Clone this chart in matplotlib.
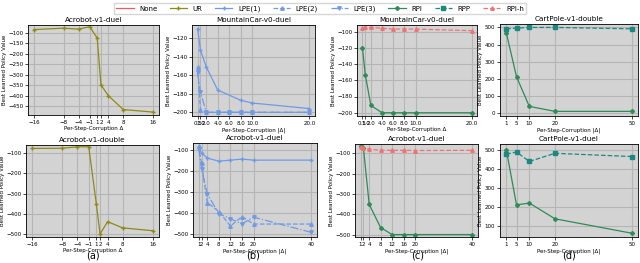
import matplotlib
matplotlib.use("Agg")
import matplotlib.pyplot as plt
from matplotlib.lines import Line2D

# ---- data ----
acro_x = [-16, -8, -4, -1, 1, 2, 4, 8, 16]
acro_duel_ur = [-84, -77, -82, -70, -125, -348, -400, -466, -478]
acro_double_ur = [-77, -76, -69, -69, -350, -500, -439, -470, -484]

mc_x = [0.5, 1.0, 2.0, 4.0, 6.0, 8.0, 10.0, 20.0]
mc_ticks = [0.5, 1.0, 2.0, 4.0, 6.0, 8.0, 10.0, 20.0]
mc_ticklabels = ["0.5", "1.0", "2.0", "4.0", "6.0", "8.0", "10.0", "20.0"]
mc_lpe1_x = [0.5, 1.0, 2.0, 4.0, 8.0, 10.0, 20.0]
mc_lpe1 = [-110, -133, -151, -176, -187, -190, -196]
mc_lpe2 = [-151, -197, -200, -200, -200, -200, -200, -200]
mc_lpe3 = [-157, -178, -200, -200, -200, -200, -200, -200]
mc_rpi = [-120, -153, -191, -200, -200, -200, -200, -200]
mc_rpih = [-96, -95, -95, -96, -97, -97, -97, -99]

ab_x = [1, 2, 4, 8, 12, 16, 20, 40]
ab_lpe1 = [-87, -113, -137, -152, -147, -142, -147, -147]
ab_lpe2 = [-78, -163, -350, -393, -463, -417, -453, -453]
ab_lpe3 = [-93, -188, -310, -403, -428, -452, -420, -493]
ab_rpi = [-66, -76, -352, -466, -500, -500, -500, -500]
ab_rpih = [-70, -76, -81, -86, -86, -86, -87, -86]

cp_x = [1, 5, 10, 20, 50]
cp_double_rpp = [492, 496, 500, 500, 492]
cp_double_rpi = [469, 213, 41, 12, 12]
cp_duel_rpp = [476, 488, 438, 481, 464]
cp_duel_rpi = [500, 209, 219, 136, 60]

# ---- styles ----
ST = {
    "None": dict(color="#ee5a65", ls="-", marker=None),
    "UR": dict(color="#8f8a17", ls="-", marker="+"),
    "LPE(1)": dict(color="#6f9ae6", ls="-", marker="+"),
    "LPE(2)": dict(color="#6f9ae6", ls="--", marker="^"),
    "LPE(3)": dict(color="#6f9ae6", ls="-.", marker="v"),
    "RPI": dict(color="#2e8b57", ls="-", marker="P"),
    "RPP": dict(color="#1a8a80", ls="--", marker="s"),
    "RPI-h": dict(color="#f07272", ls="--", marker="^"),
}

plt.rcParams.update({
    "font.size": 4.2,
    "axes.titlesize": 5.2,
    "axes.labelsize": 4.0,
    "xtick.labelsize": 4.0,
    "ytick.labelsize": 4.0,
    "axes.linewidth": 0.6,
    "xtick.major.size": 2,
    "ytick.major.size": 2,
    "xtick.major.width": 0.5,
    "ytick.major.width": 0.5,
    "xtick.major.pad": 1.5,
    "ytick.major.pad": 1.5,
})

fig = plt.figure(figsize=(6.4, 2.63), dpi=100)


def draw(ax, x, y, name):
    s = ST[name]
    ax.plot(x, y, color=s["color"], ls=s["ls"], marker=s["marker"],
            markersize=2.5, lw=0.9, label=name)


def style(ax, title, xlabel, xticks, ticklabels=None):
    ax.set_facecolor("#d3d3d3")
    ax.grid(True, color="#b5b5b5", lw=0.8)
    ax.set_axisbelow(True)
    ax.set_title(title, pad=2)
    ax.set_xlabel(xlabel, labelpad=1)
    ax.set_ylabel("Best Learned Policy Value", labelpad=1)
    ax.set_xticks(xticks)
    if ticklabels is not None:
        ax.set_xticklabels(ticklabels)


W = 640.0
H = 263.0


def rect(x0, x1, y0, y1):
    return [x0 / W, 1 - y1 / H, (x1 - x0) / W, (y1 - y0) / H]


# row 1
ax = fig.add_axes(rect(28, 159, 25, 115))
draw(ax, acro_x, acro_duel_ur, "UR")
style(ax, "Acrobot-v1-duel", "Per-Step-Corruption Δ", acro_x)
ax.set_yticks([-100, -150, -200, -250, -300, -350, -400, -450])
ax.set_ylim(-492, -62)

ax = fig.add_axes(rect(192, 315, 25, 116))
draw(ax, mc_lpe1_x, mc_lpe1, "LPE(1)")
draw(ax, mc_x, mc_lpe2, "LPE(2)")
draw(ax, mc_x, mc_lpe3, "LPE(3)")
style(ax, "MountainCar-v0-duel", "Per-Step-Corruption |Δ|", mc_ticks,
      mc_ticklabels)
ax.set_yticks([-120, -140, -160, -180, -200])
ax.set_ylim(-204, -106)

ax = fig.add_axes(rect(357, 477, 25, 116))
draw(ax, mc_x, mc_rpi, "RPI")
draw(ax, mc_x, mc_rpih, "RPI-h")
style(ax, "MountainCar-v0-duel", "Per-Step-Corruption Δ", mc_ticks,
      mc_ticklabels)
ax.set_yticks([-100, -120, -140, -160, -180, -200])
ax.set_ylim(-204, -92)

ax = fig.add_axes(rect(500, 638, 24, 116))
draw(ax, cp_x, cp_double_rpi, "RPI")
draw(ax, cp_x, cp_double_rpp, "RPP")
style(ax, "CartPole-v1-double", "Per-Step-Corruption |Δ|", cp_x)
ax.set_yticks([0, 100, 200, 300, 400, 500])
ax.set_ylim(-15, 520)

# row 2
ax = fig.add_axes(rect(26, 159, 145, 237))
draw(ax, acro_x, acro_double_ur, "UR")
style(ax, "Acrobot-v1-double", "Per-Step-Corruption Δ", acro_x)
ax.set_yticks([-100, -200, -300, -400, -500])
ax.set_ylim(-515, -60)

ax = fig.add_axes(rect(193, 317, 143, 237))
draw(ax, ab_x, ab_lpe1, "LPE(1)")
draw(ax, ab_x, ab_lpe2, "LPE(2)")
draw(ax, ab_x, ab_lpe3, "LPE(3)")
style(ax, "Acrobot-v1-duel", "Per-Step-Corruption |Δ|", ab_x)
ax.set_yticks([-100, -200, -300, -400, -500])
ax.set_ylim(-515, -65)

ax = fig.add_axes(rect(355, 478, 144, 237))
draw(ax, ab_x, ab_rpi, "RPI")
draw(ax, ab_x, ab_rpih, "RPI-h")
style(ax, "Acrobot-v1-duel", "Per-Step-Corruption |Δ|", ab_x)
ax.set_yticks([-100, -200, -300, -400, -500])
ax.set_ylim(-512, -55)

ax = fig.add_axes(rect(500, 638, 144, 237))
draw(ax, cp_x, cp_duel_rpi, "RPI")
draw(ax, cp_x, cp_duel_rpp, "RPP")
style(ax, "CartPole-v1-duel", "Per-Step-Corruption |Δ|", cp_x)
ax.set_yticks([100, 200, 300, 400, 500])
ax.set_ylim(40, 530)

# panel letters
for x, t in [(93, "(a)"), (253, "(b)"), (418, "(c)"), (569, "(d)")]:
    fig.text(x / W, 1 - 256 / H, t, ha="center", va="center", fontsize=7)

# shared legend
handles = [Line2D([], [], color=ST[n]["color"], ls=ST[n]["ls"],
                  marker=ST[n]["marker"], markersize=2.5, lw=0.9, label=n)
           for n in ST]
fig.legend(handles=handles, loc="upper center", ncol=8,
           bbox_to_anchor=(0.5, 1.0), fontsize=5, frameon=True,
           handlelength=2.5, columnspacing=1.8, borderpad=0.3,
           handletextpad=0.8, edgecolor="#cccccc", fancybox=False)

fig.savefig("out.png", dpi=100)
